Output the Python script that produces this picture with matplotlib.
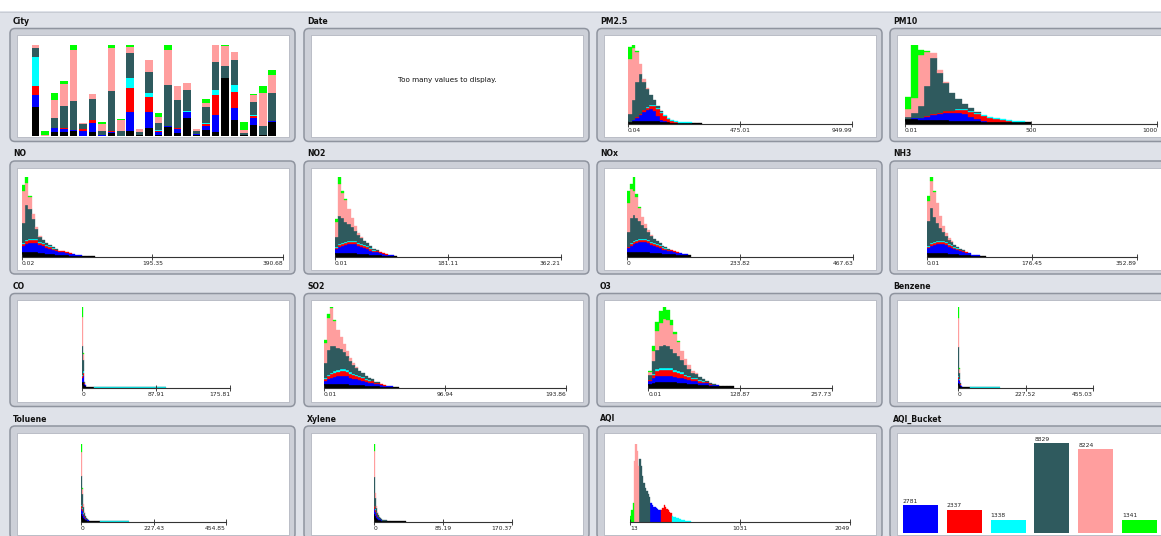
import numpy as np
import matplotlib
matplotlib.use("Agg")
import matplotlib.pyplot as plt
from matplotlib.patches import FancyBboxPatch, Rectangle

# ------------------------------------------------------------------ data
CLASSES = ["missing", "Poor", "Very Poor", "Severe", "Moderate", "Satisfactory", "Good"]
CLASS_COLORS = ["#000000", "#0000ff", "#ff0000", "#00ffff", "#2f5a5e", "#ff9e9e", "#00ff00"]

CITIES = ["Ahmedabad", "Aizawl", "Amaravati", "Amritsar", "Bengaluru", "Bhopal",
          "Brajrajnagar", "Chandigarh", "Chennai", "Coimbatore", "Delhi", "Ernakulam",
          "Gurugram", "Guwahati", "Hyderabad", "Jaipur", "Jorapokhar", "Kochi",
          "Kolkata", "Lucknow", "Mumbai", "Patna", "Shillong", "Talcher",
          "Thiruvananthapuram", "Visakhapatnam"]
CITY_MISSING = [645, 2, 90, 90, 118, 10, 80, 10, 60, 10, 100, 20, 170, 30, 200, 60, 390, 30, 130, 96, 1273, 353, 30, 250, 20, 316]
CITY_POOR = [258, 0, 80, 70, 5, 100, 200, 5, 30, 0, 440, 5, 368, 50, 10, 100, 140, 10, 80, 368, 10, 258, 0, 150, 2, 6]
CITY_VERYPOOR = [200, 0, 10, 10, 1, 40, 70, 2, 10, 0, 515, 0, 331, 40, 2, 15, 10, 0, 60, 441, 2, 368, 0, 50, 0, 0]
CITY_SEVERE = [648, 0, 5, 5, 0, 5, 10, 0, 4, 0, 220, 0, 88, 10, 0, 5, 2, 0, 10, 110, 0, 147, 0, 5, 0, 0]
CITY_MODERATE = [184, 0, 220, 480, 640, 110, 450, 90, 900, 90, 552, 60, 464, 150, 917, 625, 475, 80, 360, 626, 258, 552, 30, 300, 190, 625]
CITY_SATISFACTORY = [74, 20, 400, 490, 1135, 20, 120, 150, 940, 250, 147, 60, 258, 140, 770, 300, 145, 40, 86, 368, 440, 170, 80, 160, 740, 405]
CITY_GOOD = [0, 91, 146, 76, 110, 4, 8, 47, 65, 36, 35, 17, 0, 82, 110, 9, 7, 2, 88, 0, 26, 10, 170, 10, 160, 110]

AQI_BUCKETS = ["Poor", "Very Poor", "Severe", "Moderate", "Satisfactory", "Good"]
AQI_BUCKET_COUNTS = [2781, 2337, 1338, 8829, 8224, 1341]

DATE_MESSAGE = "Too many values to display."

# histogram bins: per class rows [missing, Poor, Very Poor, Severe, Moderate, Satisfactory, Good]
PM25_RANGE = (0.04, 949.99)
PM25_TICKS = ["0.04", "475.01", "949.99"]
PM25_BIN = 15.0
PM25 = [
    [2, 3, 3, 3, 3, 3, 3, 3, 3, 2, 2, 2, 1, 1, 1, 1, 1, 1, 1, 1, 1],
    [0, 1, 3, 6, 9, 11, 12, 10, 5, 2, 1],
    [0, 0, 1, 1, 2, 2, 3, 5, 7, 7, 5, 3, 2, 1],
    [0, 0, 0, 0, 0, 1, 1, 1, 1, 1, 1, 1, 1, 1, 1, 1, 1, 1],
    [8, 20, 35, 40, 28, 18, 10, 5, 2, 1],
    [55, 52, 30, 10, 3, 1],
    [12, 3, 1],
]

PM10_RANGE = (0.01, 1000.0)
PM10_TICKS = ["0.01", "500", "1000"]
PM10_BIN = 25.0
PM10 = [
    [4, 4, 3, 3, 3, 3, 3, 2, 2, 2, 2, 2, 1, 1, 1, 1, 1, 1, 1, 1],
    [0, 1, 2, 3, 5, 6, 7, 8, 8, 7, 4, 2, 1],
    [0, 0, 0, 1, 1, 1, 2, 2, 3, 4, 5, 5, 5, 4, 3, 2, 1],
    [0, 0, 0, 0, 0, 0, 0, 0, 1, 1, 1, 1, 1, 1, 1, 1, 1, 1, 1],
    [2, 5, 12, 30, 55, 40, 28, 18, 10, 5, 3, 1],
    [8, 15, 50, 33, 5, 2, 1],
    [12, 52, 5, 1],
]

NO_RANGE = (0.02, 390.68)
NO_TICKS = ["0.02", "195.35", "390.68"]
NO_BIN = 5.0
NO = [
    [5, 5, 5, 5, 5, 4, 4, 3, 3, 3, 2, 2, 2, 2, 1, 1, 1, 1, 1, 1, 1, 1],
    [6, 8, 9, 9, 9, 8, 7, 6, 5, 4, 4, 3, 3, 2, 2, 2, 1, 1],
    [2, 3, 3, 3, 3, 2, 2, 2, 2, 1, 1, 1, 1, 1, 1],
    [1, 1, 1, 1, 1, 1, 1, 1, 1, 1],
    [20, 35, 30, 20, 10, 5, 3, 2, 1, 1, 1],
    [32, 22, 12, 5, 2, 1],
    [6, 6, 1],
]

NO2_RANGE = (0.01, 362.21)
NO2_TICKS = ["0.01", "181.11", "362.21"]
NO2_BIN = 5.0
NO2 = [
    [4, 4, 4, 4, 4, 4, 4, 3, 3, 3, 3, 2, 2, 2, 2, 1, 1, 1, 1, 1],
    [4, 6, 7, 8, 9, 9, 9, 8, 7, 6, 5, 4, 3, 3, 2, 2, 1, 1, 1],
    [1, 2, 2, 2, 2, 2, 2, 2, 2, 2, 2, 2, 1, 1, 1, 1, 1],
    [1, 1, 1, 1, 1, 1, 1, 1, 1, 1, 1, 1, 1],
    [10, 28, 25, 20, 17, 14, 10, 8, 6, 4, 3, 2, 1, 1],
    [15, 32, 25, 22, 15, 9, 5, 2, 1],
    [3, 8, 2, 1],
]

NOX_RANGE = (0.0, 467.63)
NOX_TICKS = ["0", "233.82", "467.63"]
NOX_BIN = 6.0
NOX = [
    [4, 4, 4, 4, 4, 4, 4, 4, 3, 3, 3, 3, 2, 2, 2, 2, 2, 1, 1, 1, 1, 1],
    [4, 6, 8, 9, 10, 10, 10, 9, 8, 7, 6, 5, 4, 4, 3, 3, 2, 2, 2, 1, 1],
    [1, 2, 2, 2, 2, 2, 2, 2, 2, 2, 2, 2, 2, 1, 1, 1, 1, 1],
    [0, 1, 1, 1, 1, 1, 1, 1, 1, 1, 1, 1, 1, 1],
    [15, 25, 25, 22, 18, 14, 11, 8, 6, 4, 3, 2, 1, 1, 1],
    [28, 28, 24, 20, 12, 8, 4, 2, 1],
    [12, 5, 14, 3, 1],
]

NH3_RANGE = (0.01, 352.89)
NH3_TICKS = ["0.01", "176.45", "352.89"]
NH3_BIN = 5.0
NH3 = [
    [4, 4, 4, 4, 4, 4, 4, 3, 3, 3, 3, 2, 2, 2, 2, 1, 1, 1, 1, 1],
    [5, 7, 8, 9, 9, 9, 8, 7, 6, 5, 4, 4, 3, 2, 2, 1, 1, 1],
    [1, 2, 2, 2, 2, 2, 2, 2, 2, 1, 1, 1, 1, 1],
    [1, 1, 1, 1, 1, 1, 1, 1, 1, 1, 1],
    [25, 35, 25, 18, 13, 9, 6, 4, 3, 2, 1, 1, 1],
    [20, 27, 25, 20, 12, 6, 3, 2, 1],
    [5, 4, 1],
]

CO_RANGE = (0.0, 175.81)
CO_TICKS = ["0", "87.91", "175.81"]
CO_EDGES = [0, 1.2, 2.4, 3.6, 4.8, 15, 100]
CO = [
    [6, 6, 3, 2, 1, 0],
    [4, 6, 1, 1],
    [2, 3, 1],
    [1, 2, 0, 0, 0, 0.6],
    [30, 12, 1, 0, 0, 0.4],
    [30, 6],
    [11, 1],
]

SO2_RANGE = (0.01, 193.86)
SO2_TICKS = ["0.01", "96.94", "193.86"]
SO2_BIN = 2.5
SO2 = [
    [4, 4, 4, 4, 4, 4, 4, 4, 3, 3, 3, 3, 3, 2, 2, 2, 2, 2, 1, 1, 1, 1, 1, 1],
    [3, 5, 6, 7, 8, 8, 8, 8, 7, 6, 6, 5, 4, 4, 3, 3, 2, 2, 2, 1, 1, 1],
    [2, 3, 4, 4, 4, 5, 5, 4, 4, 4, 3, 3, 3, 2, 2, 2, 1, 1, 1, 1],
    [1, 1, 1, 2, 2, 2, 2, 2, 2, 1, 1, 1, 1, 1, 1],
    [15, 25, 27, 25, 22, 20, 17, 14, 11, 9, 7, 5, 4, 3, 2, 2, 1, 1],
    [20, 32, 38, 25, 18, 12, 8, 5, 3, 2, 1],
    [3, 4, 2, 1],
]

O3_RANGE = (0.01, 257.73)
O3_TICKS = ["0.01", "128.87", "257.73"]
O3_BIN = 5.0
O3 = [
    [3, 4, 5, 5, 5, 5, 5, 5, 4, 4, 4, 3, 3, 3, 2, 2, 2, 1, 1, 1, 1, 1, 1, 1],
    [3, 5, 6, 6, 6, 6, 6, 5, 5, 5, 4, 4, 3, 3, 2, 2, 2, 1, 1, 1],
    [1, 3, 5, 6, 6, 6, 6, 5, 5, 4, 3, 3, 2, 2, 2, 1, 1, 1],
    [0, 1, 2, 2, 2, 2, 2, 2, 2, 2, 1, 1, 1, 1, 1, 1],
    [5, 12, 18, 20, 21, 20, 18, 16, 14, 11, 9, 7, 5, 4, 3, 2, 1, 1, 1],
    [3, 10, 18, 22, 25, 25, 22, 18, 13, 9, 6, 3, 2, 1],
    [1, 4, 8, 12, 12, 10, 5, 2, 1],
]

BENZENE_RANGE = (0.0, 455.03)
BENZENE_TICKS = ["0", "227.52", "455.03"]
BENZENE_EDGES = [0, 3.2, 6.4, 9.6, 12.8, 40, 140]
BENZENE = [
    [5, 4, 2, 1, 1, 0],
    [4, 3, 1, 1],
    [2, 1, 1],
    [1, 1, 0, 0, 0, 0.6],
    [30, 6, 1, 0, 0, 0.4],
    [30, 4],
    [12, 1],
]

TOLUENE_RANGE = (0.0, 454.85)
TOLUENE_TICKS = ["0", "227.43", "454.85"]
TOLUENE_EDGES = [0, 3, 6, 9, 12, 15, 18, 21, 24, 60, 150]
TOLUENE = [
    [8, 6, 4, 3, 2, 2, 1, 1, 1, 0],
    [5, 5, 3, 2, 1, 1, 1, 1],
    [3, 2, 1, 1, 1],
    [1, 1, 1, 0, 0, 0, 0, 0, 0, 0.6],
    [30, 14, 6, 3, 2, 1, 1, 0, 0, 0.4],
    [25, 6, 3, 1],
    [8, 1],
]

XYLENE_RANGE = (0.0, 170.37)
XYLENE_TICKS = ["0", "85.19", "170.37"]
XYLENE_EDGES = [0, 1.2, 2.4, 3.6, 4.8, 6, 7.2, 8.4, 9.6, 12, 16, 20, 40]
XYLENE = [
    [8, 6, 4, 3, 2, 2, 2, 1, 1, 1, 1, 1],
    [5, 4, 3, 2, 2, 1, 1, 1],
    [3, 2, 1, 1],
    [1, 1],
    [30, 12, 6, 3, 3, 2, 1, 1, 1, 1],
    [27, 5, 2, 1],
    [8],
]

AQI_RANGE = (13.0, 2049.0)
AQI_TICKS = ["13", "1031", "2049"]
AQI_BIN = 12.5
AQI_START = 12.5
AQI_BUCKET_LIMITS = [50, 100, 200, 300, 400]   # Good | Satisfactory | Moderate | Poor | Very Poor | Severe
AQI_HEIGHTS = [6, 12, 18,
               60, 77, 70, 55,
               62, 55, 45, 38, 33, 30, 27, 24,
               18, 16, 15, 15, 14, 13, 12, 12,
               12, 14, 16, 15, 13, 12, 10, 9,
               6, 5, 5, 4, 4, 3, 3, 2, 2, 2, 1, 1, 1, 1]

# ------------------------------------------------------------------ layout
W, H = 1161, 536
BG = "#dfe2e9"
COL_X = [10, 304, 597, 890]
ROW_Y = [28.5, 161, 293.5, 426]
FRAME_W, FRAME_H = 285, 113
AXIS_Y = [123.5, 256.5, 387.5, 521.7]
PLOT_H = [78.5, 80, 81, 78]
TICK_FS = 4.3
TITLE_FS = 5.6

PANELS = [["City", "Date", "PM2.5", "PM10"],
          ["NO", "NO2", "NOx", "NH3"],
          ["CO", "SO2", "O3", "Benzene"],
          ["Toluene", "Xylene", "AQI", "AQI_Bucket"]]

HIST_SPAN = {"PM2.5": (628, 852), "PM10": (905, 1157), "NO": (21.7, 283),
             "NO2": (335, 560.7), "NOx": (626.7, 853), "NH3": (926.7, 1136.7),
             "CO": (81.7, 230), "SO2": (324, 566), "O3": (648.3, 831.7),
             "Benzene": (958, 1093), "Toluene": (81, 226), "Xylene": (374, 512),
             "AQI": (630, 850)}


def uniform_edges(lo, width, counts):
    n = max(len(r) for r in counts)
    return lo + width * np.arange(n + 1)


HISTS = {
    "PM2.5": (PM25_RANGE, PM25_TICKS, uniform_edges(PM25_RANGE[0], PM25_BIN, PM25), PM25),
    "PM10": (PM10_RANGE, PM10_TICKS, uniform_edges(PM10_RANGE[0], PM10_BIN, PM10), PM10),
    "NO": (NO_RANGE, NO_TICKS, uniform_edges(NO_RANGE[0], NO_BIN, NO), NO),
    "NO2": (NO2_RANGE, NO2_TICKS, uniform_edges(NO2_RANGE[0], NO2_BIN, NO2), NO2),
    "NOx": (NOX_RANGE, NOX_TICKS, uniform_edges(NOX_RANGE[0], NOX_BIN, NOX), NOX),
    "NH3": (NH3_RANGE, NH3_TICKS, uniform_edges(NH3_RANGE[0], NH3_BIN, NH3), NH3),
    "CO": (CO_RANGE, CO_TICKS, np.array(CO_EDGES, float), CO),
    "SO2": (SO2_RANGE, SO2_TICKS, uniform_edges(SO2_RANGE[0], SO2_BIN, SO2), SO2),
    "O3": (O3_RANGE, O3_TICKS, uniform_edges(O3_RANGE[0], O3_BIN, O3), O3),
    "Benzene": (BENZENE_RANGE, BENZENE_TICKS, np.array(BENZENE_EDGES, float), BENZENE),
    "Toluene": (TOLUENE_RANGE, TOLUENE_TICKS, np.array(TOLUENE_EDGES, float), TOLUENE),
    "Xylene": (XYLENE_RANGE, XYLENE_TICKS, np.array(XYLENE_EDGES, float), XYLENE),
}

# AQI: class of each bin follows the bucket limits
aqi_edges = AQI_START + AQI_BIN * np.arange(len(AQI_HEIGHTS) + 1)
aqi_mid = (aqi_edges[:-1] + aqi_edges[1:]) / 2
# class index order in CLASSES: Good=6, Satisfactory=5, Moderate=4, Poor=1, Very Poor=2, Severe=3
bucket_to_class = [6, 5, 4, 1, 2, 3]
aqi_bucket = np.searchsorted(AQI_BUCKET_LIMITS, aqi_mid)
AQI_COUNTS = [[0.0] * len(AQI_HEIGHTS) for _ in CLASSES]
for i, (b, h) in enumerate(zip(aqi_bucket, AQI_HEIGHTS)):
    AQI_COUNTS[bucket_to_class[b]][i] = h
HISTS["AQI"] = (AQI_RANGE, AQI_TICKS, aqi_edges, AQI_COUNTS)

# ------------------------------------------------------------------ figure
fig = plt.figure(figsize=(W / 100, H / 100), dpi=100)
fig.patch.set_facecolor(BG)
bg = fig.add_axes([0, 0, 1, 1], zorder=0)
bg.set_xlim(0, W)
bg.set_ylim(H, 0)
bg.axis("off")
bg.add_patch(Rectangle((0, 0), W, 11, fc="white", ec="none"))
bg.plot([0, W], [11.5, 11.5], color="#c4c8d0", lw=0.6)


def px_axes(x0, y_top, x1, y_bot):
    ax = fig.add_axes([x0 / W, 1 - y_bot / H, (x1 - x0) / W, (y_bot - y_top) / H], zorder=2)
    ax.patch.set_alpha(0)
    return ax


for r, row in enumerate(PANELS):
    for c, name in enumerate(row):
        x, y = COL_X[c], ROW_Y[r]
        bg.add_patch(FancyBboxPatch((x, y), FRAME_W, FRAME_H,
                                    boxstyle="round,pad=0,rounding_size=5",
                                    fc="#cdd0d8", ec="#8f949f", lw=1.1))
        bg.add_patch(Rectangle((x + 6.5, y + 6.5), FRAME_W - 13, FRAME_H - 11,
                               fc="white", ec="#b3b7c0", lw=0.6))
        bg.text(x + 3, y - 7, name, fontsize=TITLE_FS, fontweight="bold",
                ha="left", va="center", color="#111111")

# City stacked bars
ax = px_axes(30.8, 45, 277, 136)
xs = np.arange(len(CITIES))
bottom = np.zeros(len(CITIES))
for k, vals in enumerate([CITY_MISSING, CITY_POOR, CITY_VERYPOOR, CITY_SEVERE,
                          CITY_MODERATE, CITY_SATISFACTORY, CITY_GOOD]):
    v = np.array(vals, float)
    ax.bar(xs, v, width=0.8, bottom=bottom, color=CLASS_COLORS[k], linewidth=0)
    bottom += v
ax.set_xlim(-0.5, len(CITIES) - 0.5)
ax.set_ylim(0, bottom.max())
ax.axis("off")

# Date message
bg.text((COL_X[1] + FRAME_W / 2) + 1, 80, DATE_MESSAGE, fontsize=5.2,
        ha="center", va="center", color="#111111")


# histograms
def draw_hist(name, row):
    (lo, hi), ticks, edges, counts = HISTS[name]
    x0, x1 = HIST_SPAN[name]
    ay = AXIS_Y[row]
    ax = px_axes(x0, ay - PLOT_H[row], x1, ay)
    edges = np.asarray(edges, float)
    lefts = edges[:-1]
    widths = np.diff(edges)
    nb = len(lefts)
    base = np.zeros(nb)
    for k, rowvals in enumerate(counts):
        v = np.zeros(nb)
        v[:len(rowvals)] = rowvals
        m = v > 0
        if m.any():
            ax.bar(lefts[m], v[m], width=widths[m], bottom=base[m], align="edge",
                   color=CLASS_COLORS[k], edgecolor=CLASS_COLORS[k], linewidth=0.25)
        base += v
    ax.set_xlim(lo, hi)
    ax.set_ylim(0, base.max())
    for s in ("top", "left", "right"):
        ax.spines[s].set_visible(False)
    ax.spines["bottom"].set_linewidth(0.8)
    ax.spines["bottom"].set_color("#333333")
    ax.set_yticks([])
    ax.set_xticks([lo, (lo + hi) / 2, hi], labels=ticks)
    ax.tick_params(axis="x", direction="inout", length=4.3, width=0.6,
                   pad=1.0, labelsize=TICK_FS, colors="#222222")
    labs = ax.get_xticklabels()
    labs[0].set_ha("left")
    labs[-1].set_ha("right")


for r, row in enumerate(PANELS):
    for name in row:
        if name in HISTS:
            draw_hist(name, r)

# AQI_Bucket bars
ax = px_axes(898.6, 443.3, 1161.4, 533.4)
xb = np.arange(len(AQI_BUCKETS))
ax.bar(xb, AQI_BUCKET_COUNTS, width=0.8, color=CLASS_COLORS[1:], linewidth=0)
for xi, v in zip(xb, AQI_BUCKET_COUNTS):
    ax.annotate(str(v), (xi - 0.4, v), xytext=(0, 1), textcoords="offset points",
                ha="left", va="bottom", fontsize=TICK_FS, color="#222222",
                annotation_clip=False)
ax.set_xlim(-0.5, len(AQI_BUCKETS) - 0.5)
ax.set_ylim(0, max(AQI_BUCKET_COUNTS))
ax.axis("off")

fig.savefig("out.png", dpi=100, facecolor=fig.get_facecolor())
